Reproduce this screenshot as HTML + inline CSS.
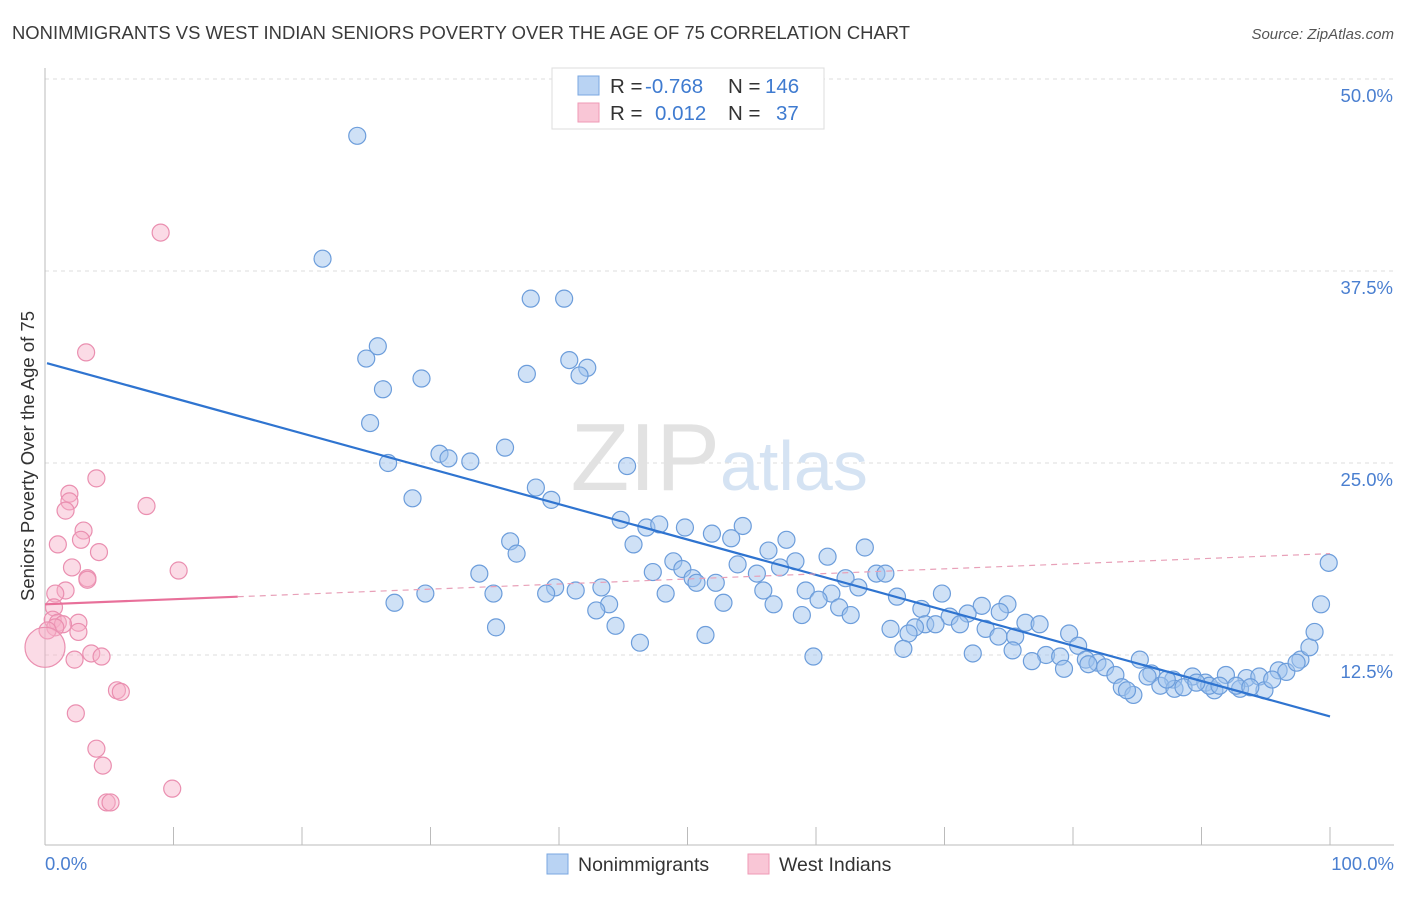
<!DOCTYPE html>
<html><head><meta charset="utf-8"><style>
body{margin:0;background:#fff;font-family:"Liberation Sans",sans-serif;}
svg text{font-family:"Liberation Sans",sans-serif;}
</style></head><body>
<svg id="chart" width="1406" height="892" xmlns="http://www.w3.org/2000/svg">
<text x="12" y="39" font-size="18" fill="#3a3a3a" textLength="898" lengthAdjust="spacingAndGlyphs">NONIMMIGRANTS VS WEST INDIAN SENIORS POVERTY OVER THE AGE OF 75 CORRELATION CHART</text>
<text x="1394" y="39" font-size="15" fill="#555" font-style="italic" text-anchor="end">Source: ZipAtlas.com</text>
<g id="grid"></g>
<text x="720" y="490" font-size="96" fill="#e2e2e2" text-anchor="end" font-family="Liberation Serif">ZIP</text>
<text x="720" y="490" font-size="70" fill="#d5e3f3">atlas</text>
<line x1="45" y1="845" x2="1394" y2="845" stroke="#bbb" stroke-width="1"/>
<line x1="45" y1="68" x2="45" y2="845" stroke="#bbb" stroke-width="1"/>
<g id="xticks"></g>
<text x="45" y="870" font-size="18.5" fill="#4a7fd0">0.0%</text>
<text x="1394" y="870" font-size="18.5" fill="#4a7fd0" text-anchor="end">100.0%</text>
<text transform="translate(34,456) rotate(-90)" font-size="18.5" fill="#333" text-anchor="middle">Seniors Poverty Over the Age of 75</text>
<g id="blue"></g>
<g id="pink"></g>
<g id="lines"></g>
<g>
<rect x="552" y="68" width="272" height="61" fill="#fff" stroke="#ddd"/>
<rect x="578" y="76" width="21" height="19" fill="#b9d3f3" stroke="#7aa7e0"/>
<rect x="578" y="103" width="21" height="19" fill="#f9c6d6" stroke="#ef9ab6"/>
<text x="610" y="93" font-size="20.5" fill="#333">R =</text>
<text x="645" y="93" font-size="20.5" fill="#3f7bd0">-0.768</text>
<text x="728" y="93" font-size="20.5" fill="#333">N =</text>
<text x="765" y="93" font-size="20.5" fill="#3f7bd0">146</text>
<text x="610" y="120" font-size="20.5" fill="#333">R =</text>
<text x="655" y="120" font-size="20.5" fill="#3f7bd0">0.012</text>
<text x="728" y="120" font-size="20.5" fill="#333">N =</text>
<text x="776" y="120" font-size="20.5" fill="#3f7bd0">37</text>
</g>
<g>
<rect x="547" y="854" width="21" height="20" fill="#b9d3f3" stroke="#7aa7e0"/>
<text x="578" y="871" font-size="19.5" fill="#333">Nonimmigrants</text>
<rect x="748" y="854" width="21" height="20" fill="#f9c6d6" stroke="#ef9ab6"/>
<text x="779" y="871" font-size="19.5" fill="#333">West Indians</text>
</g>
</svg>
<script>
const yTicks=[12.5,25.0,37.5,50.0];
const xTickVals=[0,10,20,30,40,50,60,70,80,90,100];
const blueX=[24.3,21.6,37.8,40.4,25.9,25.0,40.8,42.2,37.5,41.6,29.3,26.3,25.3,35.8,30.7,31.4,33.1,26.7,45.3,38.2,28.6,39.4,44.8,46.8,47.8,49.8,51.9,54.3,53.4,57.7,45.8,36.2,36.7,56.3,63.8,60.9,48.9,53.9,58.4,33.8,47.3,57.2,49.6,55.4,64.7,65.4,62.3,50.4,50.7,52.2,39.7,43.3,41.3,29.6,34.9,39.0,48.3,55.9,59.2,63.3,61.2,69.8,66.3,27.2,43.9,52.8,56.7,60.2,61.8,42.9,74.9,68.2,72.9,71.8,70.4,74.3,58.9,62.7,68.5,69.3,44.4,35.1,65.8,71.2,76.3,67.7,77.4,67.2,73.2,74.2,75.5,46.3,51.4,79.7,66.8,72.2,75.3,77.9,80.4,79.0,76.8,59.8,81.0,81.9,85.2,82.5,81.2,79.3,83.3,86.1,87.8,89.3,90.3,91.9,93.5,94.5,96.0,96.6,97.7,97.4,98.4,98.8,99.3,99.9,83.8,84.7,86.8,87.9,88.6,91.0,93.0,94.9,90.6,92.7,93.8,95.5,85.8,89.6,91.4,87.3,84.2];
const blueY=[46.3,38.3,35.7,35.7,32.6,31.8,31.7,31.2,30.8,30.7,30.5,29.8,27.6,26.0,25.6,25.3,25.1,25.0,24.8,23.4,22.7,22.6,21.3,20.8,21.0,20.8,20.4,20.9,20.1,20.0,19.7,19.9,19.1,19.3,19.5,18.9,18.6,18.4,18.6,17.8,17.9,18.2,18.1,17.8,17.8,17.8,17.5,17.5,17.2,17.2,16.9,16.9,16.7,16.5,16.5,16.5,16.5,16.7,16.7,16.9,16.5,16.5,16.3,15.9,15.8,15.9,15.8,16.1,15.6,15.4,15.8,15.5,15.7,15.2,15.0,15.3,15.1,15.1,14.5,14.5,14.4,14.3,14.2,14.5,14.6,14.3,14.5,13.9,14.2,13.7,13.7,13.3,13.8,13.9,12.9,12.6,12.8,12.5,13.1,12.4,12.1,12.4,12.2,12.0,12.2,11.7,11.9,11.6,11.2,11.3,10.9,11.1,10.7,11.2,11.0,11.1,11.5,11.4,12.2,12.0,13.0,14.0,15.8,18.5,10.4,9.9,10.5,10.3,10.4,10.2,10.3,10.2,10.5,10.5,10.4,10.9,11.1,10.7,10.5,10.9,10.2];
const pinkX=[9.0,3.2,4.0,1.9,1.9,1.6,7.9,3.0,2.8,1.0,4.2,10.4,2.1,3.3,3.3,1.6,0.8,0.7,0.6,1.0,2.6,1.4,0.8,2.6,0.2,3.6,4.4,2.3,5.6,5.9,2.4,4.0,4.5,9.9,4.8,5.1,0.0];
const pinkY=[40.0,32.2,24.0,23.0,22.5,21.9,22.2,20.6,20.0,19.7,19.2,18.0,18.2,17.5,17.4,16.7,16.5,15.6,14.8,14.6,14.6,14.5,14.3,14.0,14.1,12.6,12.4,12.2,10.2,10.1,8.7,6.4,5.3,3.8,2.9,2.9,13.0];
const blueTrend=[31.5,8.5];
const pinkTrend=[15.8,19.1];
const pinkSolidEnd=15;

const NS="http://www.w3.org/2000/svg";
const xS=v=>45+v*12.85;
const yS=v=>847-v*15.36;
function mk(tag,attrs,parent){const e=document.createElementNS(NS,tag);for(const k in attrs)e.setAttribute(k,attrs[k]);parent.appendChild(e);return e;}
const grid=document.getElementById('grid');
yTicks.forEach(t=>{
  const l=mk('line',{x1:45,x2:1394,y1:yS(t),y2:yS(t),stroke:'#ddd','stroke-dasharray':'4,4'},grid);
  
  
  const tx=mk('text',{x:1393,y:yS(t)+23,'font-size':18.5,fill:'#4a7fd0','text-anchor':'end'},grid);
  tx.textContent=t.toFixed(1)+'%';
  
  
});
mk('line',{x1:45,x2:1394,y1:79,y2:79,stroke:'#ddd','stroke-dasharray':'4,4'},grid);
const xt=document.getElementById('xticks');
xTickVals.forEach(v=>{
  const l=mk('line',{x1:xS(v),x2:xS(v),y1:827,y2:845,stroke:'#bbb'},xt);
  
  
});
const bg=document.getElementById('blue');
blueX.forEach((x,i)=>{
  const c=mk('circle',{cx:xS(x),cy:yS(blueY[i]),r:8.5,fill:'rgba(160,196,238,0.5)',stroke:'#6c9ddb','stroke-width':1.2},bg);
  
  
});
const pg=document.getElementById('pink');
pinkX.forEach((x,i)=>{
  const r=i===pinkX.length-1?20:8.5;
  const c=mk('circle',{cx:xS(x),cy:yS(pinkY[i]),r:r,fill:'rgba(246,176,200,0.45)',stroke:'#ea8fb0','stroke-width':1.2},pg);
  
  
});
const lg=document.getElementById('lines');
const bl=mk('line',{x1:xS(0)+2,y1:yS(blueTrend[0]),x2:xS(100),y2:yS(blueTrend[1]),stroke:'#2f74d0','stroke-width':2.2},lg);


const pAt=v=>pinkTrend[0]+(pinkTrend[1]-pinkTrend[0])*v/100;
const ps=mk('line',{x1:xS(0),y1:yS(pAt(0)),x2:xS(pinkSolidEnd),y2:yS(pAt(pinkSolidEnd)),stroke:'#e8709a','stroke-width':2.2},lg);


const pd=mk('line',{x1:xS(pinkSolidEnd),y1:yS(pAt(pinkSolidEnd)),x2:xS(100),y2:yS(pAt(100)),stroke:'#e8a0b8','stroke-width':1.2,'stroke-dasharray':'6,5'},lg);


</script>
</body></html>
